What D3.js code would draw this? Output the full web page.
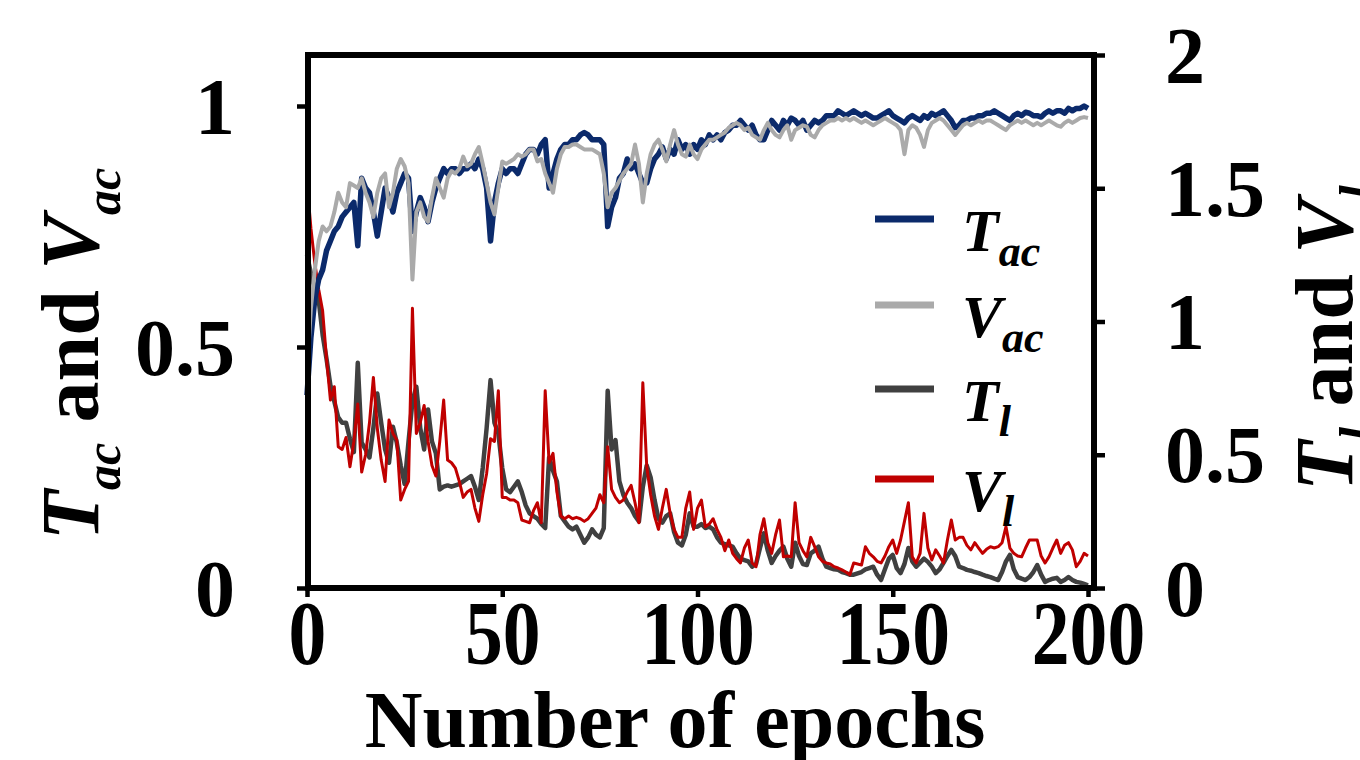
<!DOCTYPE html>
<html>
<head>
<meta charset="utf-8">
<script src="https://cdn.jsdelivr.net/npm/d3@7"></script>
<style>
  body { margin: 0; background: #fff; }
  svg { display: block; font-family: "Liberation Serif", "Times New Roman", serif; font-weight: bold; }
</style>
</head>
<body>
<div id="container"></div>
<script>
// epochs 0..200, one value per epoch
const epochs = d3.range(0, 201);

const trainAcc = [
  0.40,0.52,0.60,0.64,0.66,0.70,0.72,0.74,0.75,0.77,
  0.78,0.79,0.80,0.71,0.85,0.83,0.82,0.78,0.73,0.78,
  0.83,0.81,0.78,0.82,0.84,0.86,0.85,0.74,0.78,0.81,
  0.79,0.76,0.80,0.83,0.85,0.87,0.86,0.87,0.87,0.86,
  0.87,0.87,0.88,0.87,0.89,0.87,0.83,0.72,0.80,0.84,
  0.87,0.86,0.87,0.87,0.86,0.88,0.90,0.91,0.91,0.90,
  0.92,0.93,0.83,0.86,0.89,0.91,0.92,0.92,0.93,0.93,
  0.94,0.945,0.94,0.93,0.93,0.93,0.92,0.75,0.79,0.81,
  0.85,0.86,0.89,0.87,0.88,0.86,0.84,0.84,0.87,0.89,
  0.90,0.915,0.89,0.91,0.90,0.93,0.91,0.92,0.90,0.92,
  0.91,0.93,0.92,0.94,0.93,0.94,0.93,0.945,0.95,0.96,
  0.96,0.97,0.96,0.95,0.96,0.94,0.93,0.93,0.95,0.97,
  0.96,0.95,0.97,0.96,0.975,0.97,0.96,0.97,0.95,0.96,
  0.97,0.965,0.97,0.98,0.98,0.98,0.99,0.985,0.98,0.985,
  0.99,0.985,0.98,0.985,0.98,0.975,0.975,0.98,0.985,0.99,
  0.98,0.975,0.97,0.965,0.975,0.98,0.975,0.97,0.98,0.975,
  0.985,0.98,0.985,0.99,0.98,0.97,0.955,0.96,0.97,0.97,
  0.975,0.975,0.98,0.98,0.985,0.985,0.99,0.985,0.98,0.975,
  0.97,0.98,0.985,0.98,0.987,0.985,0.98,0.98,0.977,0.985,
  0.99,0.985,0.99,0.99,0.985,0.995,0.99,0.995,0.995,1.0,
  0.995
];

const valAcc = [
  0.45,0.58,0.66,0.72,0.75,0.74,0.75,0.78,0.82,0.80,
  0.79,0.84,0.835,0.83,0.85,0.82,0.80,0.77,0.82,0.85,
  0.86,0.79,0.82,0.87,0.89,0.875,0.84,0.64,0.78,0.80,
  0.77,0.76,0.81,0.85,0.83,0.81,0.85,0.865,0.86,0.87,
  0.895,0.875,0.88,0.90,0.915,0.88,0.84,0.80,0.775,0.83,
  0.885,0.88,0.885,0.89,0.90,0.895,0.90,0.91,0.91,0.885,
  0.89,0.86,0.84,0.82,0.87,0.90,0.915,0.915,0.92,0.92,
  0.915,0.91,0.91,0.91,0.905,0.90,0.86,0.79,0.82,0.83,
  0.845,0.86,0.87,0.88,0.92,0.88,0.80,0.86,0.90,0.92,
  0.93,0.91,0.885,0.92,0.95,0.92,0.90,0.895,0.92,0.90,
  0.89,0.91,0.92,0.93,0.93,0.935,0.94,0.945,0.955,0.96,
  0.965,0.96,0.95,0.955,0.94,0.935,0.93,0.95,0.965,0.95,
  0.94,0.935,0.95,0.96,0.93,0.95,0.955,0.96,0.957,0.94,
  0.935,0.95,0.96,0.965,0.97,0.97,0.975,0.97,0.975,0.97,
  0.975,0.97,0.965,0.97,0.965,0.96,0.965,0.97,0.975,0.97,
  0.965,0.96,0.95,0.90,0.95,0.96,0.955,0.94,0.915,0.95,
  0.965,0.97,0.975,0.97,0.96,0.95,0.94,0.95,0.96,0.965,
  0.96,0.965,0.97,0.965,0.97,0.97,0.965,0.96,0.955,0.95,
  0.96,0.965,0.97,0.965,0.97,0.965,0.96,0.965,0.96,0.965,
  0.97,0.965,0.96,0.957,0.965,0.97,0.965,0.97,0.975,0.977,
  0.975
];

const trainLoss = [
  1.25,1.18,1.12,1.08,0.95,0.86,0.76,0.70,0.64,0.62,
  0.62,0.56,0.51,0.845,0.545,0.52,0.49,0.60,0.73,0.62,
  0.52,0.47,0.605,0.545,0.46,0.39,0.55,0.70,0.755,0.60,
  0.52,0.67,0.55,0.505,0.37,0.38,0.385,0.38,0.385,0.39,
  0.40,0.41,0.42,0.38,0.33,0.45,0.60,0.78,0.62,0.58,
  0.45,0.37,0.36,0.38,0.40,0.36,0.31,0.28,0.27,0.26,
  0.24,0.225,0.49,0.44,0.40,0.27,0.25,0.23,0.22,0.23,
  0.20,0.17,0.19,0.22,0.20,0.19,0.225,0.74,0.52,0.555,
  0.40,0.35,0.32,0.30,0.27,0.25,0.38,0.46,0.415,0.33,
  0.26,0.245,0.27,0.28,0.21,0.17,0.16,0.20,0.28,0.23,
  0.23,0.24,0.225,0.23,0.22,0.19,0.17,0.165,0.16,0.155,
  0.13,0.11,0.105,0.10,0.08,0.09,0.15,0.205,0.14,0.094,
  0.12,0.14,0.155,0.11,0.08,0.17,0.12,0.09,0.086,0.13,
  0.14,0.155,0.11,0.08,0.075,0.07,0.068,0.06,0.056,0.05,
  0.05,0.055,0.06,0.07,0.075,0.08,0.05,0.03,0.07,0.11,
  0.124,0.075,0.056,0.09,0.15,0.10,0.08,0.095,0.11,0.098,
  0.08,0.056,0.07,0.094,0.12,0.143,0.12,0.08,0.075,0.068,
  0.065,0.06,0.056,0.05,0.045,0.041,0.035,0.03,0.06,0.10,
  0.124,0.07,0.041,0.035,0.03,0.041,0.06,0.086,0.05,0.023,
  0.03,0.035,0.038,0.023,0.03,0.041,0.03,0.023,0.02,0.015,
  0.01
];

const valLoss = [
  1.52,1.35,1.22,1.12,1.04,0.86,0.705,0.755,0.53,0.52,
  0.565,0.455,0.55,0.69,0.435,0.50,0.62,0.79,0.60,0.48,
  0.40,0.63,0.58,0.555,0.33,0.37,0.40,1.05,0.58,0.62,
  0.685,0.55,0.46,0.42,0.55,0.705,0.48,0.47,0.45,0.40,
  0.34,0.36,0.37,0.30,0.25,0.35,0.43,0.56,0.55,0.74,
  0.34,0.34,0.33,0.33,0.32,0.255,0.25,0.245,0.29,0.32,
  0.245,0.74,0.47,0.505,0.36,0.27,0.26,0.27,0.26,0.265,
  0.26,0.25,0.26,0.28,0.30,0.35,0.32,0.53,0.37,0.34,
  0.32,0.33,0.36,0.385,0.32,0.245,0.77,0.455,0.35,0.27,
  0.22,0.30,0.37,0.28,0.22,0.19,0.19,0.30,0.36,0.22,
  0.30,0.33,0.23,0.24,0.26,0.22,0.19,0.14,0.18,0.13,
  0.11,0.094,0.15,0.18,0.094,0.08,0.20,0.26,0.17,0.13,
  0.20,0.255,0.117,0.12,0.117,0.32,0.17,0.14,0.117,0.19,
  0.155,0.117,0.10,0.094,0.09,0.08,0.075,0.068,0.06,0.05,
  0.094,0.09,0.086,0.155,0.13,0.117,0.10,0.094,0.12,0.155,
  0.18,0.13,0.18,0.25,0.32,0.117,0.094,0.13,0.28,0.15,
  0.105,0.143,0.12,0.094,0.18,0.255,0.18,0.19,0.19,0.16,
  0.143,0.17,0.15,0.13,0.145,0.155,0.15,0.155,0.17,0.23,
  0.15,0.13,0.12,0.117,0.15,0.18,0.18,0.18,0.12,0.094,
  0.117,0.15,0.18,0.13,0.16,0.17,0.143,0.08,0.10,0.13,
  0.12
];

const xTicks = [0, 50, 100, 150, 200];
const leftTicks = [0, 0.5, 1];
const rightTicks = [0, 0.5, 1, 1.5, 2];

const W = 1360, H = 760;
const frame = { left: 308, right: 1094, top: 55, bottom: 588 };

const svg = d3.select("#container").append("svg")
  .attr("width", W)
  .attr("height", H);

const x = d3.scaleLinear().domain([0, 200]).range([307, 1088]);
const yL = d3.scaleLinear().domain([0, 1]).range([frame.bottom, 106]);
const yR = d3.scaleLinear().domain([0, 2]).range([frame.bottom, frame.top]);

// series: accuracies on left axis, losses on right axis
const series = [
  { values: trainLoss, y: yR, color: "#404040", width: 4.5 },
  { values: valLoss, y: yR, color: "#c00000", width: 3 },
  { values: trainAcc, y: yL, color: "#0b2a6b", width: 5.5 },
  { values: valAcc, y: yL, color: "#aaaaaa", width: 4 }
];

series.forEach(s => {
  const line = d3.line()
    .x((d, i) => x(epochs[i]))
    .y(d => s.y(d));
  svg.append("path")
    .datum(s.values)
    .attr("d", line)
    .attr("fill", "none")
    .attr("stroke", s.color)
    .attr("stroke-width", s.width)
    .attr("stroke-linejoin", "round");
});

// axes
const xAxis = svg.append("g")
  .attr("transform", `translate(0,${frame.bottom})`)
  .call(d3.axisBottom(x).tickValues(xTicks).tickSize(9).tickSizeOuter(0).tickPadding(3));
xAxis.selectAll("text")
  .attr("font-size", 90)
  .attr("transform", "scale(0.84,1)");

const leftAxis = svg.append("g")
  .attr("transform", `translate(${frame.left},0)`)
  .call(d3.axisLeft(yL).tickValues(leftTicks).tickFormat(d => d).tickSize(11).tickSizeOuter(0).tickPadding(62));
leftAxis.selectAll("text").attr("font-size", 80).attr("dy", "0.34em");

const rightAxis = svg.append("g")
  .attr("transform", `translate(${frame.right},0)`)
  .call(d3.axisRight(yR).tickValues(rightTicks).tickFormat(d => d).tickSize(11).tickSizeOuter(0).tickPadding(60));
rightAxis.selectAll("text").attr("font-size", 80).attr("dy", "0.34em");

// d3 puts sans-serif on the axis groups, drop it so the serif applies
[xAxis, leftAxis, rightAxis].forEach(a => a.attr("font-family", null).attr("font-size", null));
svg.selectAll(".domain").remove();
svg.selectAll(".tick line").attr("stroke", "#000").attr("stroke-width", 4.5);
svg.selectAll(".tick text").attr("fill", "#000");

// box around plot
svg.append("rect")
  .attr("x", frame.left)
  .attr("y", frame.top)
  .attr("width", frame.right - frame.left)
  .attr("height", frame.bottom - frame.top)
  .attr("fill", "none")
  .attr("stroke", "#000")
  .attr("stroke-width", 6);

// axis titles
svg.append("text")
  .attr("x", 675)
  .attr("y", 747)
  .attr("text-anchor", "middle")
  .attr("font-size", 80)
  .text("Number of epochs");

function subTitle(parts, tx, ty, big, small, shift) {
  const t = svg.append("text")
    .attr("transform", `translate(${tx},${ty}) rotate(-90)`)
    .attr("text-anchor", "middle")
    .attr("font-size", big);
  let cur = 0;
  parts.forEach(p => {
    const dy = p.sub ? shift - cur : -cur;
    cur = p.sub ? shift : 0;
    t.append("tspan")
      .attr("dy", dy)
      .attr("font-size", p.sub ? small : big)
      .attr("font-style", p.it ? "italic" : "normal")
      .text(p.s);
  });
}

subTitle([
  { s: "T", it: true }, { s: "ac", it: true, sub: true },
  { s: " and " }, { s: "V", it: true }, { s: "ac", it: true, sub: true }
], 98, 354, 82, 50, 22);

subTitle([
  { s: "T", it: true }, { s: "l", it: true, sub: true },
  { s: " and " }, { s: "V", it: true }, { s: "l", it: true, sub: true }
], 1352, 338, 82, 50, 22);

// legend
const legendNames = [["T", "ac"], ["V", "ac"], ["T", "l"], ["V", "l"]];
const legendColors = ["#0b2a6b", "#aaaaaa", "#404040", "#c00000"];
const legendY = [219, 305, 389, 479];

legendNames.forEach((n, i) => {
  svg.append("line")
    .attr("x1", 875).attr("x2", 934)
    .attr("y1", legendY[i]).attr("y2", legendY[i])
    .attr("stroke", legendColors[i])
    .attr("stroke-width", 7);
  const t = svg.append("text")
    .attr("x", 962)
    .attr("y", legendY[i] + 32)
    .attr("font-style", "italic")
    .attr("font-size", 60);
  t.append("tspan").text(n[0]);
  t.append("tspan").attr("dy", 15).attr("font-size", 44).text(n[1]);
});
</script>
</body>
</html>
